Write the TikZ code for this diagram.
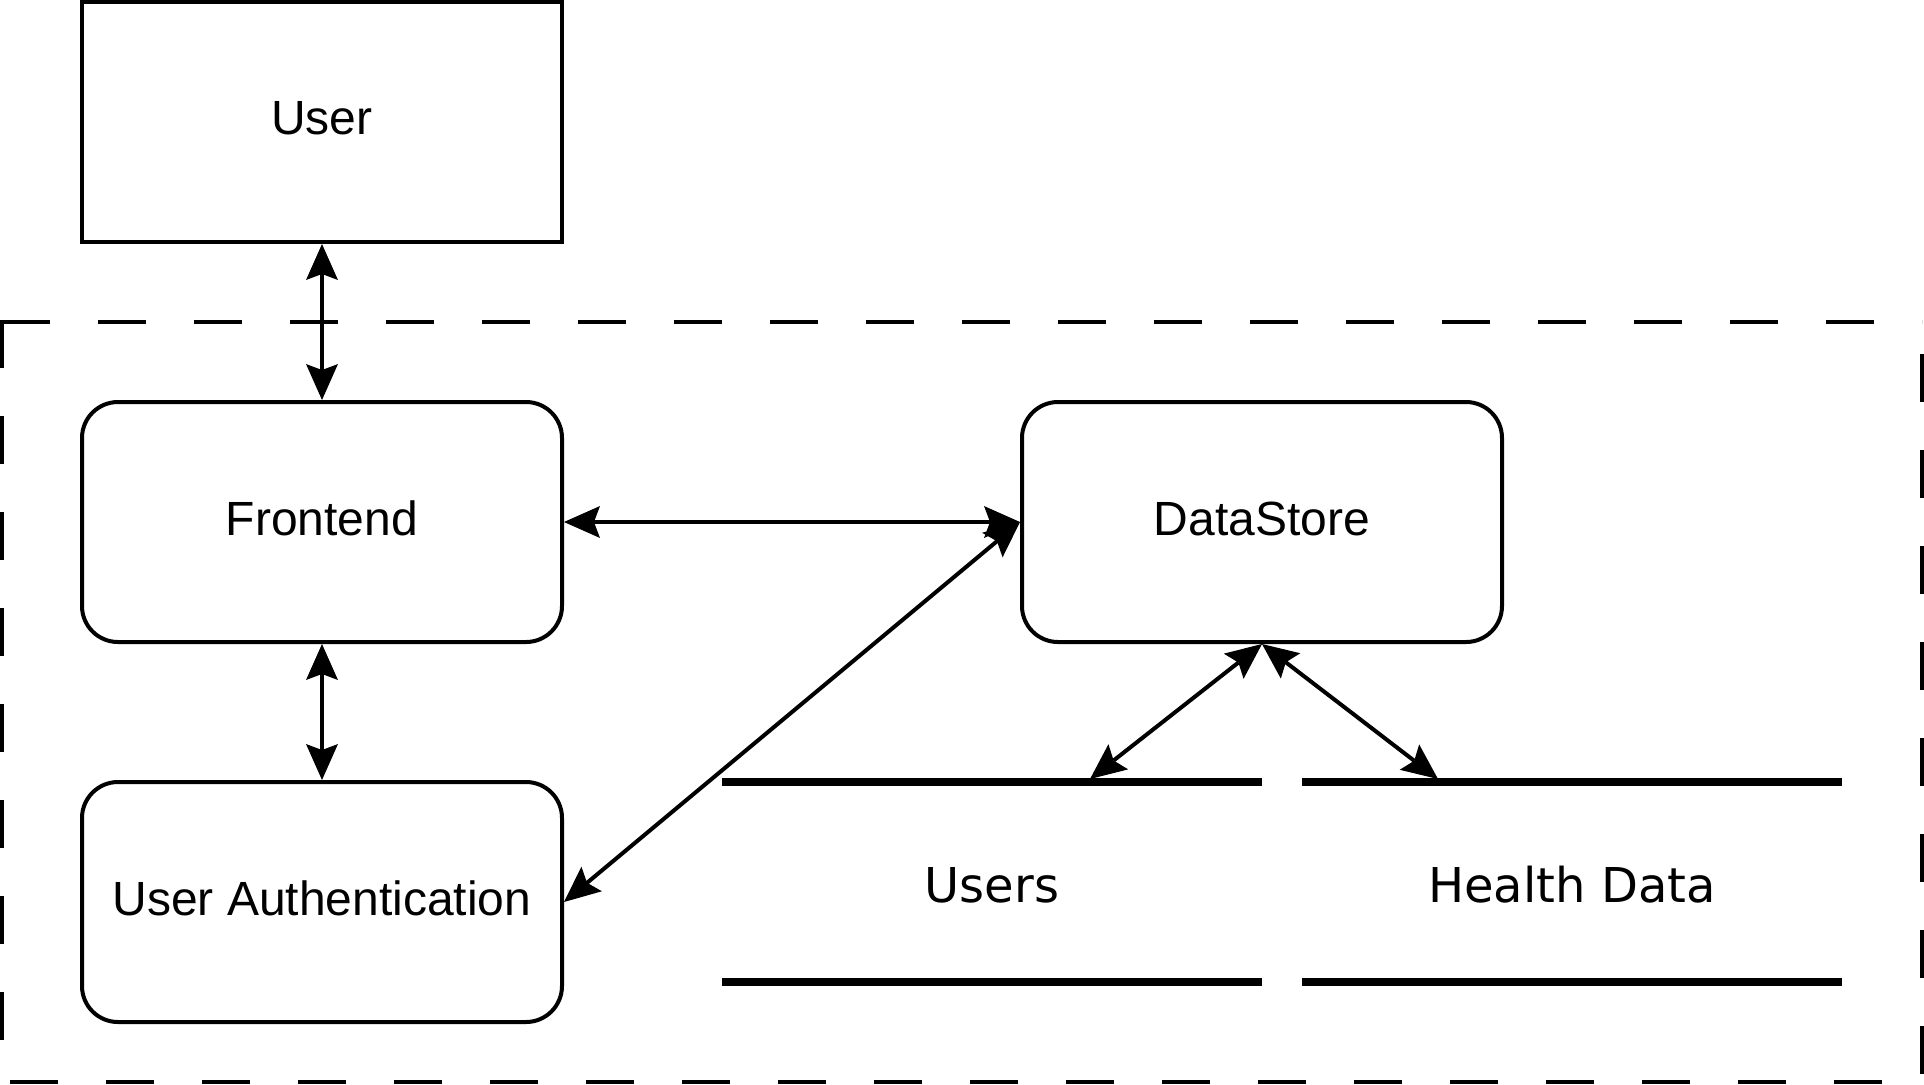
\documentclass[tikz,border=0pt]{standalone}
\usepackage{fontspec}
\setmainfont{Liberation Sans}
\newfontfamily\storefont{DejaVu Sans}
\usetikzlibrary{arrows.meta}
\begin{document}
\begin{tikzpicture}[x=0.5pt,y=-0.5pt,
  box/.style={draw, line width=2pt, minimum width=240pt, minimum height=120pt, inner sep=0pt, text depth=3.6pt, font=\fontsize{24pt}{28pt}\selectfont},
  rbox/.style={box, rounded corners=18pt},
  store/.style={minimum width=270pt, minimum height=100pt, inner sep=0pt, outer sep=0pt, text height=20pt, text depth=0pt, font=\storefont\fontsize{24pt}{28pt}\selectfont},
  storeline/.style={line width=4pt},
  tip/.tip={Stealth[length=18pt,width=16pt,inset=3pt,line width=0pt]},
  link/.style={line width=2pt, tip-tip},
  frame/.style={line width=2pt, dash pattern=on 24pt off 24pt}
]
\useasboundingbox (0,0) rectangle (1924,1084);
% dashed container
\draw[frame] (2,320) -- (2,1082);
\draw[frame] (2,322) -- (1922,322);
\draw[frame, dash phase=32pt] (1922,322) -- (1922,1082);
\draw[frame, dash phase=44pt] (2,1082) -- (1922,1082);
% nodes
\node[box] (user) at (322,122) {User};
\node[rbox] (front) at (322,522) {Frontend};
\node[rbox] (auth) at (322,902) {User Authentication};
\node[rbox] (ds) at (1262,522) {DataStore};
\node[store] (users) at (992,882) {Users};
\node[store] (health) at (1572,882) {Health Data};
\draw[storeline] (users.north west) -- (users.north east);
\draw[storeline] (users.south west) -- (users.south east);
\draw[storeline] (health.north west) -- (health.north east);
\draw[storeline] (health.south west) -- (health.south east);
\coordinate (usersin) at (1090,779);
\coordinate (healthin) at (1438,779);
% connectors
\draw[link] (user) -- (front);
\draw[link] (front) -- (auth);
\draw[link] (front) -- (ds);
\draw[link] (auth.east) -- (ds.west);
\draw[link] (ds.south) -- (usersin);
\draw[link] (ds.south) -- (healthin);
\end{tikzpicture}
\end{document}
